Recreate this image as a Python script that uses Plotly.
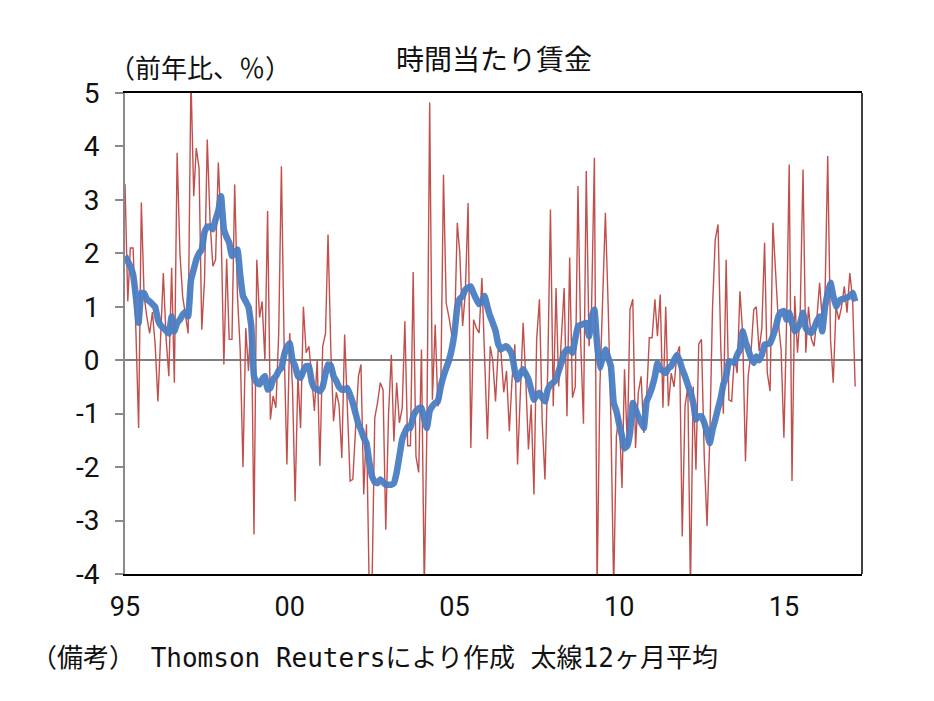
import plotly.graph_objects as go
import pandas as pd

# monthly YoY change (%), Jan 1995 onward
monthly = [
    3.3, 1.1, 2.1, 2.1, 0.6, -1.27, 2.95, 1.2, 0.8, 0.5, 0.9, 0.3,
    -0.77, 0.6, 1.63, 0.4, -0.3, 1.73, -0.42, 3.88, 2.0, 1.2, 0.8, 0.5,
    5.3, 3.07, 3.97, 3.6, 0.57, 1.5, 4.13, 2.6, 1.76, 1.88, 3.7, 2.5,
    -0.08, 1.9, 0.39, 0.39, 3.29, 1.2, 0.2, -2.0, 0.6, -0.2, 1.0, -3.26,
    1.88, 0.8, 1.1, 0.0, 2.79, -1.11, -0.67, -0.89, 0.5, 3.63, 0.2, -1.95,
    0.51, -0.5, -2.64, -0.3, -1.27, 1.0, 0.14, 0.26, -0.3, -0.95, 0.0, -1.98,
    0.26, 0.5, 2.35, 0.2, -1.14, -0.6, -0.83, -1.83, 0.48, -0.9, -2.26, -2.23,
    -1.2, -0.3, -0.08, -2.51, -1.2, -4.3, -4.3, -1.08, -0.8, -0.42, -0.55, -3.17,
    -1.0, 0.1, -1.52, -0.42, -1.17, -0.9, 0.73, -1.6, -1.6, 1.65, -1.8, -2.1,
    0.2, -4.3, -1.3, 4.82, -0.74, 0.67, -0.86, -0.7, 3.47, 1.07, 0.8, 0.48,
    0.48, 2.57, 2.0, 0.64, 1.26, 2.94, -1.64, 0.76, 0.6, 0.51, 1.54, 0.2,
    -1.48, 0.26, 0.0, -0.77, 0.2, 0.14, -0.6, -0.2, -1.33, -0.36, 0.3, -1.95,
    -0.5, 0.7, -0.3, -1.67, -0.83, -2.51, 0.39, 1.14, -1.17, -2.23, -0.17, 2.82,
    -0.86, 1.35, -0.49, 0.51, 1.35, -1.05, 1.92, -0.7, -0.5, 3.26, 0.3, -1.19,
    3.54, 0.26, 1.0, 3.79, -4.3, -0.49, 1.07, 2.76, 1.0, -1.1, -4.3, -1.42,
    -1.0, -2.39, -0.17, -1.6, 0.95, 1.14, -1.64, -0.6, -0.3, -1.36, -0.7, 0.42,
    0.42, 1.14, 0.45, 1.23, -0.89, 1.0, -0.86, -0.24, -0.5, 0.1, 0.26, -3.3,
    -0.86, -0.49, -4.3, -0.49, -2.05, 0.3, 0.39, -1.8, -3.1, -1.48, 1.0, 2.26,
    2.54, 0.2, -1.0, 1.88, -0.74, -0.77, 0.07, -0.24, 1.29, 0.5, -1.89, -0.3,
    0.14, 0.95, 1.0, 0.17, 0.6, 2.2, -0.24, -0.58, 2.57, 1.76, 0.7, 0.2,
    -1.45, 0.8, 3.66, -2.26, 1.2, 0.14, 0.9, 3.57, 0.14, 1.0, 0.4, 0.26,
    0.76, 1.45, 0.76, 1.2, 3.82, 0.39, -0.42, 1.0, 0.76, 1.0, 1.38, 0.89,
    1.63, 1.14, -0.49,
]

# 12-month average (thick line)
avg12 = [
    1.95, 1.85, 1.76, 1.6, 1.2, 0.7, 1.26, 1.25, 1.14, 1.1, 1.05, 1.0,
    0.76, 0.65, 0.6, 0.55, 0.5, 0.82, 0.54, 0.7, 0.76, 0.85, 0.9, 0.82,
    1.5, 1.7, 1.88, 2.0, 2.07, 2.4, 2.5, 2.5, 2.45, 2.63, 2.8, 3.07,
    2.45, 2.3, 2.2, 1.95, 2.0, 2.07, 1.6, 1.2, 1.1, 1.0, 0.64, -0.3,
    -0.42, -0.45, -0.36, -0.3, -0.55, -0.52, -0.36, -0.3, -0.2, -0.14, 0.1, 0.25,
    0.32, 0.0, -0.11, -0.3, -0.33, -0.2, -0.11, -0.11, -0.4, -0.52, -0.55, -0.58,
    -0.5, -0.25, -0.08, -0.1, -0.3, -0.39, -0.5, -0.55, -0.55, -0.52, -0.65, -0.8,
    -1.0, -1.2, -1.3, -1.45, -1.55, -1.9, -2.17, -2.28, -2.3, -2.23, -2.28, -2.33,
    -2.33, -2.33, -2.3, -2.1, -1.8, -1.48, -1.35, -1.24, -1.27, -1.05, -0.95, -0.9,
    -0.89, -1.1, -1.27, -0.95, -0.86, -0.8, -0.77, -0.5, -0.3, -0.15, 0.0, 0.2,
    0.51, 1.0, 1.15, 1.2, 1.32, 1.36, 1.38, 1.25, 1.14, 1.05, 1.1, 1.2,
    1.0, 0.82, 0.7, 0.55, 0.3, 0.2, 0.24, 0.26, 0.2, 0.1, -0.2, -0.36,
    -0.25, -0.17, -0.25, -0.36, -0.55, -0.74, -0.65, -0.61, -0.7, -0.77, -0.55, -0.46,
    -0.42, -0.36, -0.2, -0.05, 0.14, 0.2, 0.2, 0.14, 0.4, 0.64, 0.66, 0.68,
    0.7, 0.45, 0.8, 0.95, 0.3, -0.14, 0.05, 0.2, 0.05, -0.11, -0.8, -0.95,
    -1.2, -1.42, -1.65, -1.6, -1.36, -0.8, -0.92, -1.05, -1.17, -1.27, -0.77, -0.65,
    -0.5, -0.3, -0.05, -0.17, -0.2, -0.24, -0.15, -0.11, 0.0, 0.1, 0.0, -0.17,
    -0.3, -0.46, -0.6, -0.8, -1.11, -1.05, -1.05, -1.17, -1.35, -1.55, -1.3, -1.11,
    -0.9, -0.7, -0.45, -0.3, -0.02, -0.03, -0.05, 0.1, 0.2, 0.54, 0.35, 0.2,
    0.05, -0.05, 0.07, 0.0, 0.1, 0.29, 0.3, 0.32, 0.45, 0.6, 0.82, 0.9,
    0.92, 0.76, 0.89, 0.7, 0.54, 0.6, 0.7, 0.89, 0.6, 0.54, 0.51, 0.6,
    0.73, 0.82, 0.54, 1.0, 1.26, 1.45, 1.2, 1.0, 1.1, 1.14, 1.15, 1.17,
    1.2, 1.26, 1.1,
]

tick_dates = ["1995-01-01", "2000-01-01", "2005-01-01", "2010-01-01", "2015-01-01"]
tick_labels = ["95", "00", "05", "10", "15"]
y_ticks = [5, 4, 3, 2, 1, 0, -1, -2, -3, -4]
y_tick_labels = ["5", "4", "3", "2", "1", "0", "-1", "-2", "-3", "-4"]

dates = pd.date_range("1995-01-01", periods=len(monthly), freq="MS")

num_font = "Roboto, Noto Sans CJK JP"
jp_font = "DejaVu Sans Mono, Noto Sans CJK JP"

fig = go.Figure()
fig.add_trace(go.Scatter(x=dates, y=monthly, mode="lines",
                         line=dict(color="#C0504D", width=1.4), showlegend=False))
fig.add_trace(go.Scatter(x=dates[:len(avg12)], y=avg12, mode="lines",
                         line=dict(color="#4A7EC2", width=6.5, shape="spline", smoothing=0.3),
                         opacity=0.95, showlegend=False))

fig.update_layout(
    width=934, height=701,
    margin=dict(l=117, r=80, t=85, b=135, autoexpand=False),
    paper_bgcolor="white", plot_bgcolor="white",
    xaxis=dict(range=["1995-01-01", "2017-05-16"], tickvals=tick_dates, ticktext=tick_labels,
               showgrid=False, showline=True, linecolor="#000", linewidth=2, mirror=True,
               ticks="", automargin=False, ticklabelstandoff=8,
               tickfont=dict(family=num_font, size=27, color="#111")),
    yaxis=dict(range=[-4, 5], tickvals=y_ticks, ticktext=y_tick_labels, showgrid=False,
               showline=True, linecolor="#8a8a8a", linewidth=2, automargin=False,
               ticks="outside", ticklen=8, tickcolor="#8a8a8a", tickwidth=2,
               ticklabelstandoff=10,
               zeroline=True, zerolinecolor="#808080", zerolinewidth=2,
               tickfont=dict(family=num_font, size=28, color="#111")),
    shapes=[dict(type="line", xref="paper", yref="paper", x0=1, x1=1, y0=0, y1=1,
                 line=dict(color="#000", width=1.5))],
    annotations=[
        dict(text="時間当たり賃金", xref="paper", yref="paper", x=0.5, y=1.0,
             yshift=33, xanchor="center", yanchor="middle", showarrow=False,
             font=dict(family=jp_font, size=28, color="#111")),
        dict(text="（前年比、％）", xref="paper", yref="paper", x=-0.024, y=1.0,
             yshift=24, xanchor="left", yanchor="middle", showarrow=False,
             font=dict(family=jp_font, size=26, color="#111")),
        dict(text="（備考） Thomson Reutersにより作成 太線12ヶ月平均", xref="paper", yref="paper",
             x=-0.13, y=0.0, yshift=-84, xanchor="left", yanchor="middle", showarrow=False,
             font=dict(family=jp_font, size=26, color="#111")),
    ],
)

fig.write_html("out.html")
